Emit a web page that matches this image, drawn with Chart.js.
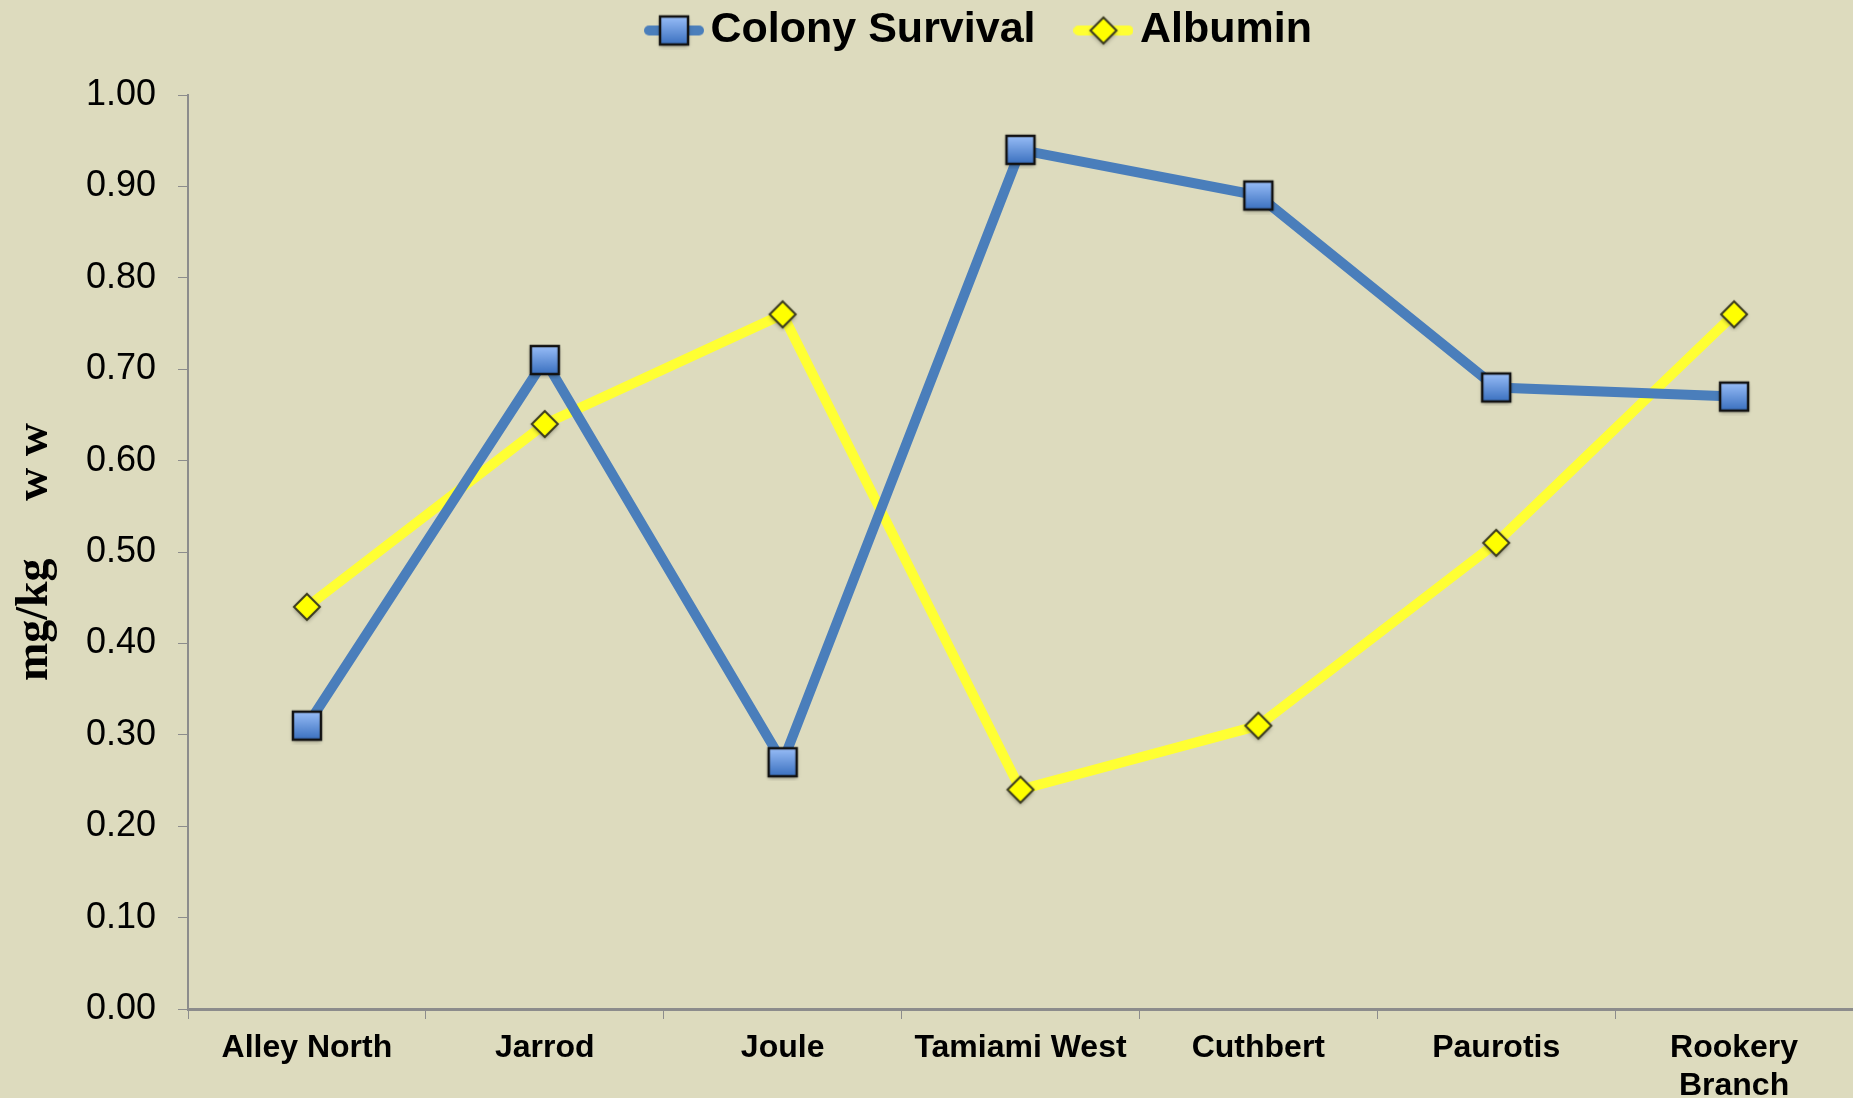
<!DOCTYPE html>
<html>
<head>
<meta charset="utf-8">
<script src="https://cdn.jsdelivr.net/npm/chart.js@4"></script>
<style>
  html, body { margin: 0; padding: 0; background: #dddbbe; overflow: hidden; }
  #wrap { width: 1853px; height: 1098px; }
  canvas { display: block; }
</style>
</head>
<body>
<div id="wrap"><canvas id="chart" width="1853" height="1098"></canvas></div>
<script>
// data
const sites = ["Alley North", "Jarrod", "Joule", "Tamiami West", "Cuthbert", "Paurotis", ["Rookery", "Branch"]];
const colonySurvival = [0.31, 0.71, 0.27, 0.94, 0.89, 0.68, 0.67];
const albumin = [0.44, 0.64, 0.76, 0.24, 0.31, 0.51, 0.76];
const yTicks = [0, 0.1, 0.2, 0.3, 0.4, 0.5, 0.6, 0.7, 0.8, 0.9, 1.0];

const blue = "#4a7ebb";
const yellow = "#ffff33";

// marker pictures
function squareMarker(withLine) {
  const c = document.createElement("canvas");
  c.width = withLine ? 60 : 38;
  c.height = 38;
  const g = c.getContext("2d");
  const cx = c.width / 2, cy = 19, s = 28;
  if (withLine) {
    g.strokeStyle = blue; g.lineWidth = 10; g.lineCap = "round";
    g.beginPath(); g.moveTo(5, cy); g.lineTo(c.width - 5, cy); g.stroke();
  }
  g.shadowColor = "rgba(0,0,0,0.35)"; g.shadowBlur = 4; g.shadowOffsetY = 2;
  const grad = g.createLinearGradient(0, cy - s / 2, 0, cy + s / 2);
  grad.addColorStop(0, "#98bdf7");
  grad.addColorStop(1, "#3a70bf");
  g.fillStyle = grad;
  g.fillRect(cx - s / 2, cy - s / 2, s, s);
  g.shadowColor = "transparent";
  g.strokeStyle = "#111"; g.lineWidth = 2.5;
  g.strokeRect(cx - s / 2, cy - s / 2, s, s);
  return c;
}

function diamondMarker(withLine) {
  const c = document.createElement("canvas");
  c.width = withLine ? 60 : 36;
  c.height = 36;
  const g = c.getContext("2d");
  const cx = c.width / 2, cy = 18, r = 13;
  if (withLine) {
    g.strokeStyle = yellow; g.lineWidth = 10; g.lineCap = "round";
    g.beginPath(); g.moveTo(5, cy); g.lineTo(c.width - 5, cy); g.stroke();
  }
  g.shadowColor = "rgba(0,0,0,0.35)"; g.shadowBlur = 4; g.shadowOffsetY = 2;
  g.beginPath();
  g.moveTo(cx, cy - r); g.lineTo(cx + r, cy); g.lineTo(cx, cy + r); g.lineTo(cx - r, cy); g.closePath();
  g.fillStyle = "#ffff00"; g.fill();
  g.shadowColor = "transparent";
  g.strokeStyle = "#3a3a20"; g.lineWidth = 2;
  g.stroke();
  return c;
}

const sqPoint = squareMarker(false);
const dmPoint = diamondMarker(false);
const sqLegend = squareMarker(true);
const dmLegend = diamondMarker(true);

// nudge the legend to where it sits in the picture
const legendShift = {
  id: "legendShift",
  afterLayout(chart) {
    const lg = chart.legend;
    if (lg) {
      lg.left += 59;
      lg.right += 59;
      lg.top -= 33;
      lg.bottom -= 33;
    }
  },
};

Chart.defaults.font.family = "Arial, 'Liberation Sans', sans-serif";
Chart.defaults.color = "#000";

new Chart(document.getElementById("chart").getContext("2d"), {
  type: "line",
  data: {
    labels: sites,
    datasets: [
      {
        label: "Colony Survival",
        data: colonySurvival,
        borderColor: blue,
        backgroundColor: blue,
        borderWidth: 10,
        pointStyle: sqPoint,
        tension: 0,
      },
      {
        label: "Albumin",
        data: albumin,
        borderColor: yellow,
        backgroundColor: yellow,
        borderWidth: 10,
        pointStyle: dmPoint,
        tension: 0,
      },
    ],
  },
  plugins: [legendShift],
  options: {
    responsive: false,
    animation: false,
    layout: { padding: 0, autoPadding: false },
    plugins: {
      tooltip: { enabled: false },
      legend: {
        position: "top",
        labels: {
          usePointStyle: true,
          pointStyleWidth: 30,
          padding: 10,
          font: { size: 43, weight: "bold" },
          generateLabels: () => [
            { text: "Colony Survival\u2002\u2002", pointStyle: sqLegend, fillStyle: blue, strokeStyle: blue, lineWidth: 0, datasetIndex: 0 },
            { text: "Albumin", pointStyle: dmLegend, fillStyle: yellow, strokeStyle: yellow, lineWidth: 0, datasetIndex: 1 },
          ],
        },
      },
    },
    scales: {
      x: {
        offset: true,
        grid: { display: true, drawOnChartArea: false, offset: true, color: "#8c8c8c", tickLength: 10 },
        border: { color: "#8c8c8c", width: 3 },
        ticks: { font: { size: 32, weight: "bold" }, padding: 10, maxRotation: 0, autoSkip: false },
        afterFit: (scale) => {
          scale.height = 89;
          scale.paddingLeft = 0;
          scale.paddingRight = 0;
        },
      },
      y: {
        min: 0,
        max: 1,
        afterBuildTicks: (scale) => { scale.ticks = yTicks.map((v) => ({ value: v })); },
        grid: { display: true, drawOnChartArea: false, color: "#8c8c8c", tickLength: 10 },
        border: { color: "#8c8c8c", width: 2 },
        ticks: {
          font: { size: 36 },
          padding: 22,
          callback: (v) => Number(v).toFixed(2),
        },
        title: {
          display: true,
          text: "mg/kg     w w",
          font: { family: "'Times New Roman', 'Liberation Serif', serif", size: 46, weight: "bold" },
          padding: { top: 8, bottom: 0 },
        },
        afterFit: (scale) => {
          scale.width = 188;
          scale.paddingTop = 95;
          scale.paddingBottom = 0;
        },
      },
    },
  },
});
</script>
</body>
</html>
